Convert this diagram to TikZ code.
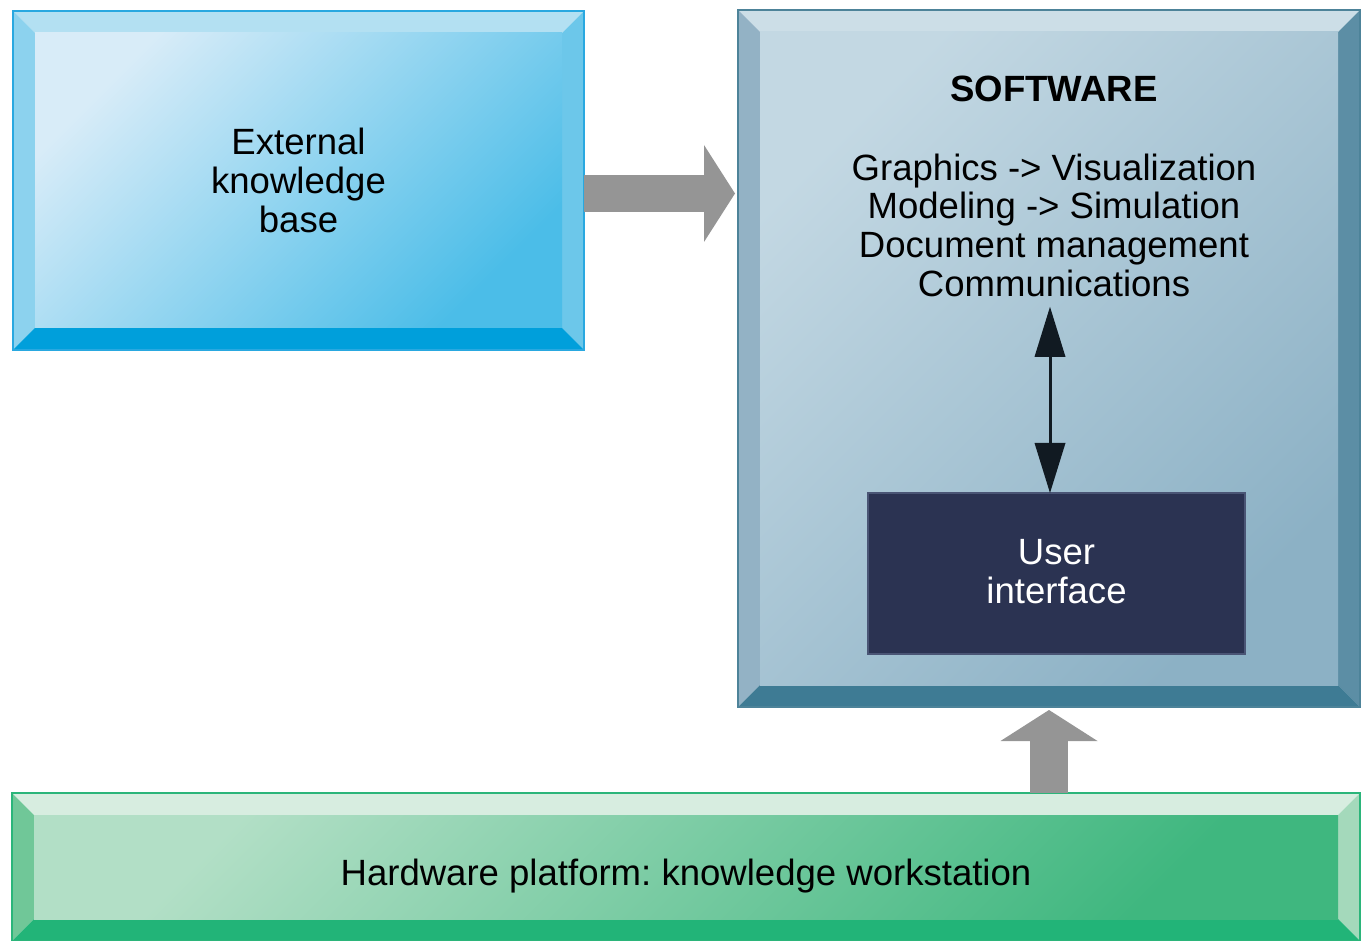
\documentclass[tikz,border=0pt]{standalone}
\usepackage{fontspec}
\setmainfont{Liberation Sans}
\usetikzlibrary{arrows.meta,positioning,fit}
\frenchspacing

\definecolor{ekbline}{HTML}{29A8E0}
\definecolor{ekbtop}{HTML}{B3E0F2}
\definecolor{ekbleft}{HTML}{8CD2EE}
\definecolor{ekbright}{HTML}{6CC7EA}
\definecolor{ekbbottom}{HTML}{009FDB}
\definecolor{ekblight}{HTML}{D8ECF8}
\definecolor{ekbdark}{HTML}{4BBDE8}
\definecolor{swline}{HTML}{4D8399}
\definecolor{swtop}{HTML}{CCDEE7}
\definecolor{swleft}{HTML}{93B2C5}
\definecolor{swright}{HTML}{5C8EA5}
\definecolor{swbottom}{HTML}{3E7B94}
\definecolor{swlight}{HTML}{C3D8E3}
\definecolor{swdark}{HTML}{8CB1C5}
\definecolor{hwline}{HTML}{2BB57A}
\definecolor{hwtop}{HTML}{D7EDE0}
\definecolor{hwleft}{HTML}{70C798}
\definecolor{hwright}{HTML}{A4D9BB}
\definecolor{hwbottom}{HTML}{22B478}
\definecolor{hwlight}{HTML}{B2DFC6}
\definecolor{hwdark}{HTML}{3FB77F}
\definecolor{uifill}{HTML}{2B3352}
\definecolor{uiline}{HTML}{4A5575}
\definecolor{arrowgray}{HTML}{959595}
\definecolor{linkblack}{HTML}{111A22}

\begin{document}
\begin{tikzpicture}[x=0.2mm,y=-0.2mm,
	font=\fontsize{20.8}{22}\selectfont,
	box/.style={inner sep=0pt, outer sep=0pt},
	uibox/.style={box, fill=uifill, draw=uiline, line width=0.3mm},
	txt/.style={align=center, inner sep=0pt},
	bigarrow/.style={draw=arrowgray, line width=7.5mm, shorten >=0.6mm,
		-{Triangle[length=6.2mm, width=19.4mm, line width=0pt]}},
	link/.style={draw=linkblack, line width=0.6mm, shorten <=2mm,
		{Triangle[length=10mm, width=6.2mm, line width=0pt]}-{Triangle[length=10mm, width=6.2mm, line width=0pt]}}]
	\useasboundingbox (0,0) rectangle (1365,941);

	% outer frames
	\node[box, fit={(13,11) (584,350)}] (ekb) {};
	\node[box, fit={(738,10) (1360,707)}] (sw) {};
	\node[box, fit={(12,793) (1360,941)}] (hw) {};

	% bevels and faces
	\foreach \n in {ekb, sw, hw} {
		\fill[\n top] (\n.north west) -- (\n.north east) -- ([shift={(-22,22)}]\n.north east) -- ([shift={(22,22)}]\n.north west) -- cycle;
		\fill[\n left] (\n.north west) -- ([shift={(22,22)}]\n.north west) -- ([shift={(22,-22)}]\n.south west) -- (\n.south west) -- cycle;
		\fill[\n right] (\n.north east) -- (\n.south east) -- ([shift={(-22,-22)}]\n.south east) -- ([shift={(-22,22)}]\n.north east) -- cycle;
		\fill[\n bottom] (\n.south west) -- (\n.south east) -- ([shift={(-22,-22)}]\n.south east) -- ([shift={(22,-22)}]\n.south west) -- cycle;
		\shade[top color=\n light, bottom color=\n dark, shading angle=45] ([shift={(22,22)}]\n.north west) rectangle ([shift={(-22,-22)}]\n.south east);
		\draw[\n line, line width=0.4mm] (\n.north west) rectangle (\n.south east);
	}

	\node[txt] at (ekb.center) {External\\knowledge\\base};
	\node[txt] (title) at ([xshift=1mm, yshift=-15.8mm]sw.north) {\bfseries SOFTWARE};
	\node[txt, below=10.2mm of title] (list) {Graphics -> Visualization\\Modeling -> Simulation\\Document management\\Communications};
	\node[uibox, fit={(868,493) (1245,654)}] (ui) {};
	\node[txt, text=white] at ([yshift=0.4mm]ui.center) {User\\interface};
	\node[txt] at ([yshift=-1.8mm]hw.center) {Hardware platform: knowledge workstation};

	% connectors
	\coordinate (kbout) at ([yshift=-2.6mm]ekb.east);
	\coordinate (listout) at ([xshift=-0.8mm]list.south);
	\draw[bigarrow] (kbout) -- (kbout -| sw.west);
	\draw[bigarrow] (hw.north -| sw.south) -- (sw.south);
	\draw[link] (listout) -- (listout |- ui.north);
\end{tikzpicture}
\end{document}
